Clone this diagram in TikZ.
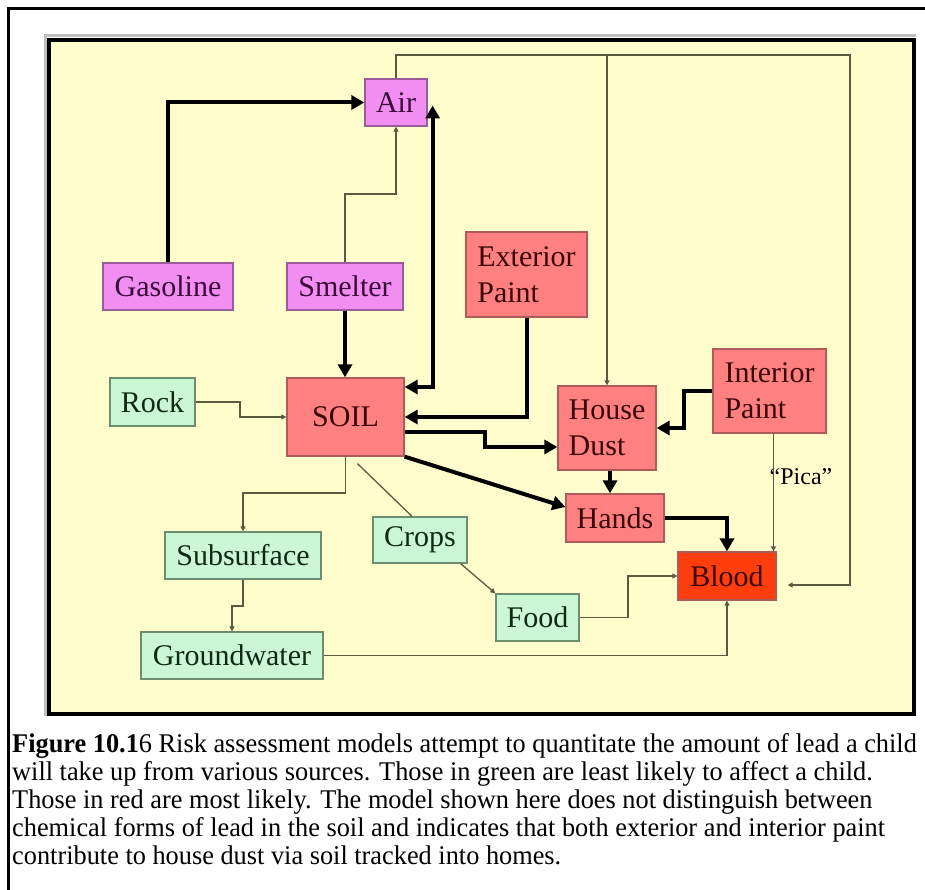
\documentclass[tikz,border=0pt]{standalone}
\usepackage{fontspec}
\setmainfont{Liberation Serif}
\newfontfamily\piefont[FakeStretch=0.975]{Liberation Serif}
\usetikzlibrary{arrows.meta,calc}
\definecolor{amarillo}{HTML}{FFFDCC}
\definecolor{rosa}{HTML}{F28EF2}
\definecolor{rosaborde}{HTML}{9C5C9C}
\definecolor{rosatinta}{HTML}{3A0A3A}
\definecolor{salmon}{HTML}{FF8080}
\definecolor{salmonborde}{HTML}{B05A5A}
\definecolor{rojotinta}{HTML}{3A0505}
\definecolor{rojosangre}{HTML}{FF3D0D}
\definecolor{menta}{HTML}{CCF7D6}
\definecolor{mentaborde}{HTML}{6E8C6E}
\definecolor{mentatinta}{HTML}{0F2A14}
\definecolor{oliva}{HTML}{5A5A40}

\begin{document}
\begin{tikzpicture}[x=1pt, y=-1pt, font=\fontsize{30}{36}\selectfont,
    caja/.style={draw, line width=1.3pt, inner sep=0pt, align=left},
    cajarosa/.style={caja, fill=rosa, draw=rosaborde, text=rosatinta},
    cajaroja/.style={caja, fill=salmon, draw=salmonborde, text=rojotinta},
    cajasangre/.style={caja, fill=rojosangre, draw=salmonborde, text=rojotinta},
    cajaverde/.style={caja, fill=menta, draw=mentaborde, text=mentatinta},
    grueso/.style={line width=4pt, >={Triangle[length=13pt,width=14pt]}, ->},
    fino/.style={oliva, line width=1.3pt, >={Triangle[length=5pt,width=5pt]}, ->}]
        \useasboundingbox (0,0) rectangle (925,890);
        \fill[white] (0,0) rectangle (925,890);
        \draw[line width=3pt] (8,890) -- (8,9) -- (925,9);
        % panel
        \draw[black!25, line width=3pt] (45,716) -- (45,36) -- (916,36);
        \draw[line width=4.5pt, fill=amarillo] (49,40) rectangle (914,714);

        % sources
        \node[cajarosa, minimum width=62, minimum height=47] (aire) at (396,102.5) {Air};
        \node[cajarosa, minimum width=130, minimum height=47] (gasolina) at (168,286.5) {Gasoline};
        \node[cajarosa, minimum width=116, minimum height=47] (fundicion) at (345,286.5) {Smelter};
        \node[cajaroja, minimum width=121, minimum height=85] (exterior) at (526.5,274.5) {Exterior\\Paint};
        \node[cajaverde, minimum width=85, minimum height=48] (roca) at (152.5,402) {Rock};
        \node[cajaroja, minimum width=117, minimum height=78] (suelo) at (345.5,417) {SOIL};
        \node[cajaroja, minimum width=98, minimum height=84] (polvo) at (607,428) {House\\Dust};
        \node[cajaroja, minimum width=113, minimum height=84] (interior) at (769.5,391) {Interior\\Paint};
        \node[cajaroja, minimum width=98, minimum height=48] (manos) at (615,518) {Hands};
        \node[cajasangre, minimum width=98, minimum height=48] (sangre) at (727,576) {Blood};
        \node[cajaverde, minimum width=156, minimum height=47] (subsuelo) at (243,555.5) {Subsurface};
        \node[cajaverde, minimum width=94, minimum height=46] (cultivos) at (420,540) {Crops};
        \node[cajaverde, minimum width=83, minimum height=47] (alimento) at (537.5,617.5) {Food};
        \node[cajaverde, minimum width=182, minimum height=47] (aguasub) at (232,655.5) {Groundwater};
        \node[font=\fontsize{24}{28}\selectfont, inner sep=1pt] (pica) at (801,477) {“Pica”};

        % heavy pathways
        \draw[grueso] (gasolina.north) |- (aire.west);
        \draw[grueso] (fundicion.south) -- (fundicion.south |- suelo.north);
        \draw[grueso, <->] ([yshift=30pt]suelo.east) -| ([xshift=5pt,yshift=-3pt]aire.east);
        \draw[grueso] (exterior.south) |- (suelo.east);
        \draw[grueso] ([yshift=-15pt]suelo.east) -- (485,432) |- ([yshift=-19pt]polvo.west);
        \draw[grueso] (suelo.south east) -- ([yshift=11pt]manos.west);
        \draw[grueso] (interior.west) -- (684,391) |- (polvo.east);
        \draw[grueso] ([xshift=3pt]polvo.south) -- ([xshift=3pt]polvo.south |- manos.north);
        \draw[grueso] (manos.east) -| (sangre.north);

        % light pathways
        \draw[fino] (fundicion.north) |- (aire.south |- 0,194) -- (aire.south);
        \draw[fino] (aire.north) |- (850,55) |- ([xshift=11pt,yshift=-9pt]sangre.east);
        \draw[fino] (polvo.north |- 0,55) -- (polvo.north);
        \draw[fino] ([xshift=4pt]interior.south) -- ([xshift=4pt]interior.south |- sangre.north);
        \draw[fino] (roca.east) -- (240,402) |- (suelo.west);
        \draw[fino] (suelo.south) -- (suelo.south |- 0,493) -| (subsuelo.north);
        \draw[fino, -] ([xshift=12pt,yshift=-7pt]suelo.south) -- ([xshift=-8pt]cultivos.north);
        \draw[fino] ([xshift=-7pt]cultivos.south east) -- (alimento.north west);
        \draw[fino] (subsuelo.south) -- (243,606) -| (aguasub.north);
        \draw[fino] (alimento.east) -- (628,617.5) |- (sangre.west);
        \draw[fino] (aguasub.east) -| (sangre.south);

        % caption
        \node[anchor=north west, inner sep=0pt, align=left, font=\piefont\fontsize{27}{28}\selectfont] (pie) at (12,733)
          {\textbf{Figure 10.1}6 Risk assessment models attempt to quantitate the amount of lead a child\\
           will take up from various sources.  Those in green are least likely to affect a child.\\
           Those in red are most likely.  The model shown here does not distinguish between\\
           chemical forms of lead in the soil and indicates that both exterior and interior paint\\
           contribute to house dust via soil tracked into homes.};
\end{tikzpicture}
\end{document}
